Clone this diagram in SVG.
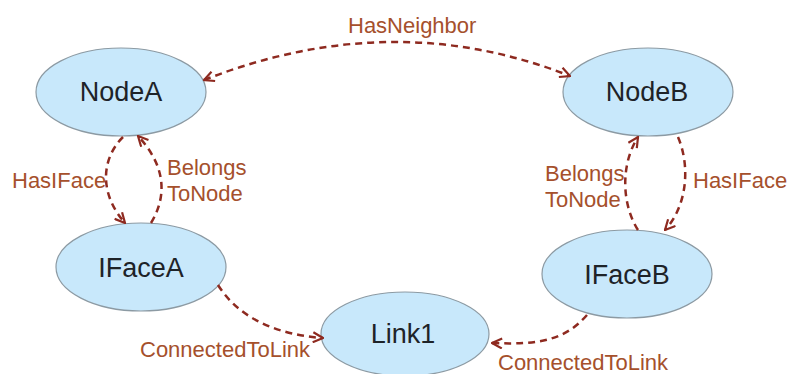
<svg xmlns="http://www.w3.org/2000/svg" width="790" height="374" viewBox="0 0 790 374">
<style>
.node ellipse{fill:#C8E8FB;stroke:#8C9AA3;stroke-width:1.2}
.node text{font-family:"Liberation Sans",Arial,sans-serif;font-size:27px;fill:#1E2328;text-anchor:middle}
.edge{fill:none;stroke:#8E2A20;stroke-width:2.5;stroke-dasharray:7 5}
.lbl{font-family:"Liberation Sans",Arial,sans-serif;font-size:22px;fill:#A5502C}
</style>
<defs>
<marker id="arr" viewBox="0 0 12 12" refX="11" refY="6" markerWidth="12" markerHeight="12" markerUnits="userSpaceOnUse" orient="auto-start-reverse">
<path d="M1,1 L11,6 L1,11" fill="none" stroke="#8E2A20" stroke-width="2.2"/>
</marker>
</defs>
<rect width="790" height="374" fill="#fff"/>
<g id="NodeA" class="node"><ellipse cx="121" cy="92" rx="85" ry="44"/><text x="121" y="101">NodeA</text></g>
<g id="NodeB" class="node"><ellipse cx="648" cy="92" rx="85" ry="44"/><text x="647" y="101">NodeB</text></g>
<g id="IFaceA" class="node"><ellipse cx="141" cy="267" rx="85" ry="44"/><text x="141" y="277">IFaceA</text></g>
<g id="IFaceB" class="node"><ellipse cx="627" cy="274" rx="85" ry="44"/><text x="627" y="284">IFaceB</text></g>
<g id="Link1" class="node"><ellipse cx="405" cy="334" rx="84" ry="42"/><text x="403" y="343">Link1</text></g>
<g id="connectors">
<path class="edge" d="M204 80 Q393 6 570 76" marker-start="url(#arr)" marker-end="url(#arr)"/>
<path class="edge" d="M123 137 C100 160 100 195 125 223" marker-end="url(#arr)"/>
<path class="edge" d="M151 223 C168 195 165 165 138 136" marker-end="url(#arr)"/>
<path class="edge" d="M678 137 C690 165 688 205 665 230" marker-end="url(#arr)"/>
<path class="edge" d="M638 230 C622 205 620 165 638 137" marker-end="url(#arr)"/>
<path class="edge" d="M218 285 C240 320 280 335 323 338" marker-end="url(#arr)"/>
<path class="edge" d="M587 315 C565 340 540 345 492 343" marker-end="url(#arr)"/>
<text class="lbl" x="348" y="33">HasNeighbor</text>
<text class="lbl" x="12" y="188">HasIFace</text>
<text class="lbl" x="167" y="175">Belongs</text>
<text class="lbl" x="167" y="201">ToNode</text>
<text class="lbl" x="545" y="181">Belongs</text>
<text class="lbl" x="545" y="207">ToNode</text>
<text class="lbl" x="693" y="188">HasIFace</text>
<text class="lbl" x="140" y="357">ConnectedToLink</text>
<text class="lbl" x="498" y="370">ConnectedToLink</text>
</g>
</svg>
